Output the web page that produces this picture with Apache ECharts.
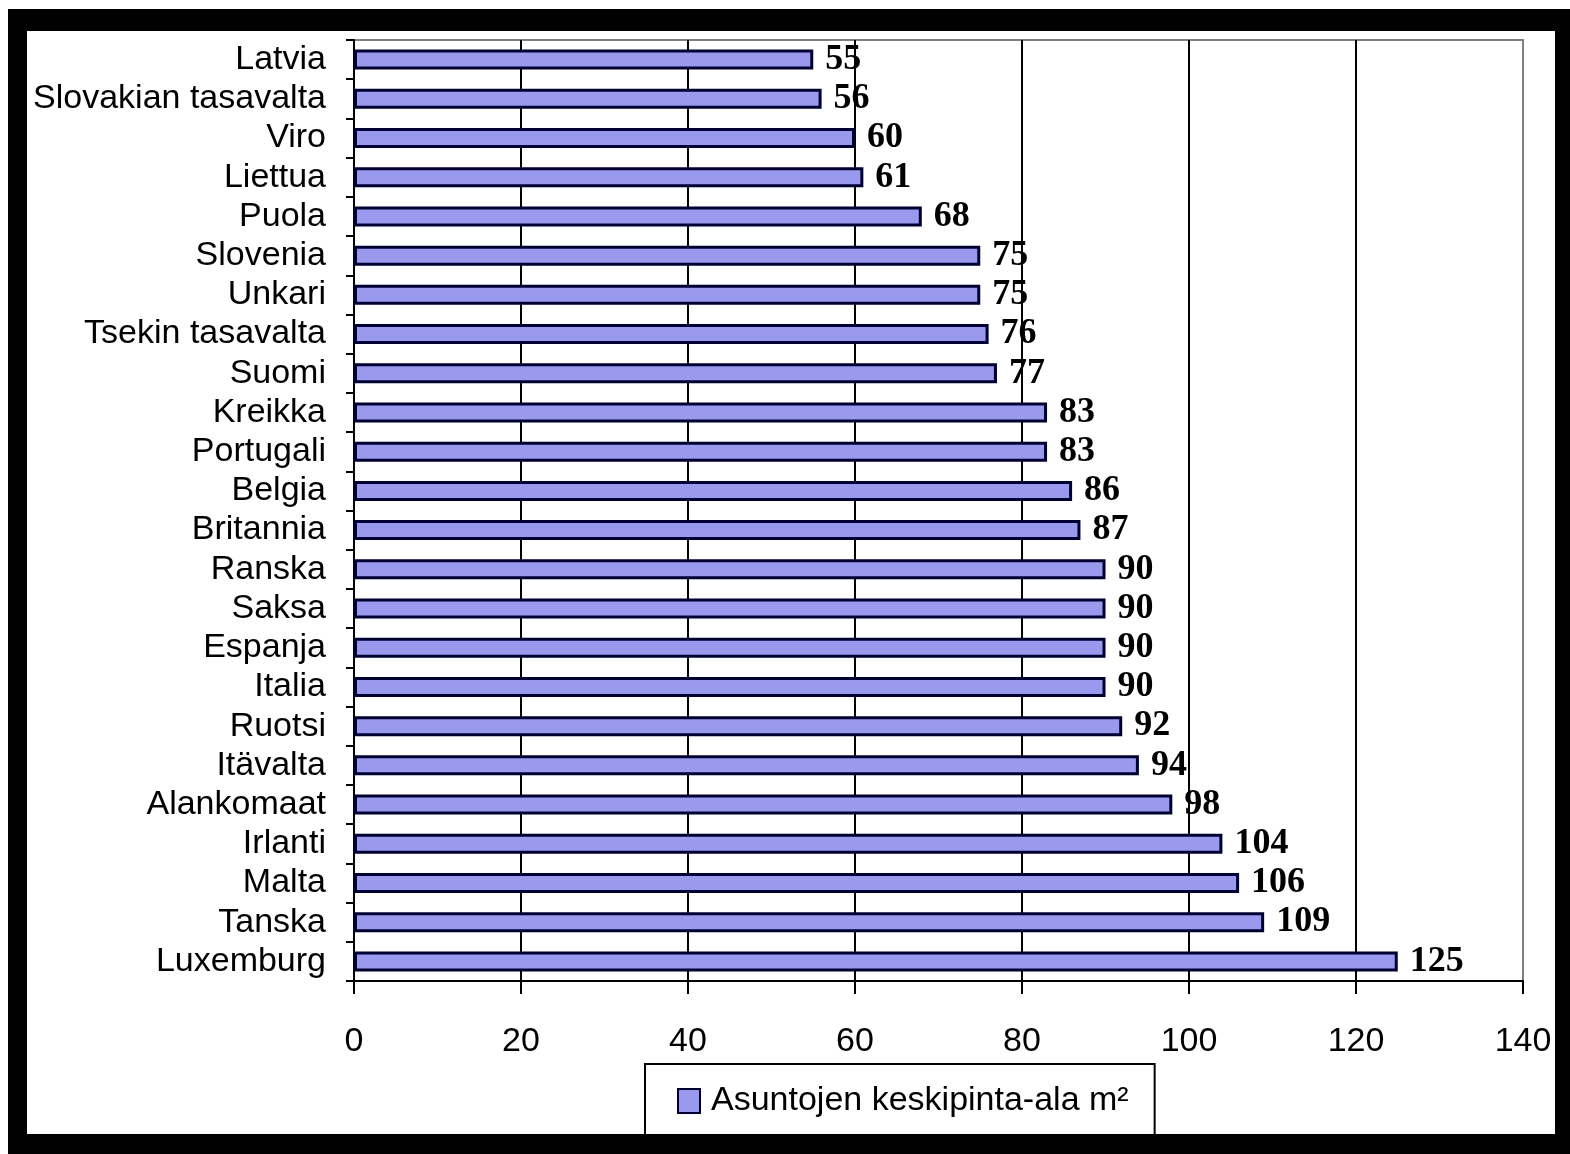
<!DOCTYPE html>
<html>
<head>
<meta charset="utf-8">
<script src="https://cdn.jsdelivr.net/npm/echarts@6/dist/echarts.min.js"></script>
<style>
html,body{margin:0;padding:0;background:#fff;}
#chart{width:1570px;height:1154px;}
</style>
</head>
<body>
<div id="chart"></div>
<script>
const categories = ["Latvia","Slovakian tasavalta","Viro","Liettua","Puola","Slovenia","Unkari","Tsekin tasavalta","Suomi","Kreikka","Portugali","Belgia","Britannia","Ranska","Saksa","Espanja","Italia","Ruotsi","Itävalta","Alankomaat","Irlanti","Malta","Tanska","Luxemburg"];
const values = [55,56,60,61,68,75,75,76,77,83,83,86,87,90,90,90,90,92,94,98,104,106,109,125];
const seriesName = "Asuntojen keskipinta-ala m²";
const xTicks = {min:0, max:140, interval:20};

const chart = echarts.init(document.getElementById('chart'));
const sans = "'Liberation Sans', Arial, sans-serif";
chart.setOption({
  animation:false,
  backgroundColor:'#fff',
  grid:{left:354, right:47, top:40, bottom:173, show:true, borderColor:'#808080', borderWidth:2, backgroundColor:'#fff'},
  legend:{
    left:645, top:1064,
    data:[seriesName],
    backgroundColor:'#fff',
    borderColor:'#000', borderWidth:2,
    padding:[20,26,34,32],
    itemWidth:22, itemHeight:24,
    icon:'rect',
    textStyle:{fontFamily:sans, fontSize:34, color:'#000', padding:[0,0,0,6]}
  },
  xAxis:{
    type:'value', min:xTicks.min, max:xTicks.max, interval:xTicks.interval,
    axisLine:{show:true, lineStyle:{color:'#000', width:2}},
    axisTick:{show:true, length:13, lineStyle:{color:'#000', width:2}},
    axisLabel:{fontFamily:sans, fontSize:34, color:'#000', margin:44},
    splitLine:{show:true, lineStyle:{color:['#000','#000','#000','#000','#000','#000','#000','#808080'], width:2}}
  },
  yAxis:{
    type:'category', data:categories, inverse:true,
    axisLine:{show:true, lineStyle:{color:'#000', width:2}},
    axisTick:{show:true, length:8, lineStyle:{color:'#000', width:2}},
    axisLabel:{interval:0, fontFamily:sans, fontSize:34, color:'#000', margin:28, padding:[4,0,0,0]}
  },
  series:[{
    name:seriesName, type:'bar', data:values,
    barWidth:20,
    itemStyle:{color:'#9999ee', borderColor:'#000033', borderWidth:3},
    label:{show:true, position:'right', distance:12, fontFamily:"'Liberation Serif', 'Times New Roman', serif", fontWeight:'bold', fontSize:36, color:'#000'}
  }],
  graphic:[
    {type:'rect', z:100, shape:{x:8, y:9, width:1562, height:22}, style:{fill:'#000'}},
    {type:'rect', z:100, shape:{x:8, y:9, width:19, height:1145}, style:{fill:'#000'}},
    {type:'rect', z:100, shape:{x:1555, y:9, width:15, height:1145}, style:{fill:'#000'}},
    {type:'rect', z:100, shape:{x:8, y:1134, width:1562, height:20}, style:{fill:'#000'}}
  ]
});
</script>
</body>
</html>
